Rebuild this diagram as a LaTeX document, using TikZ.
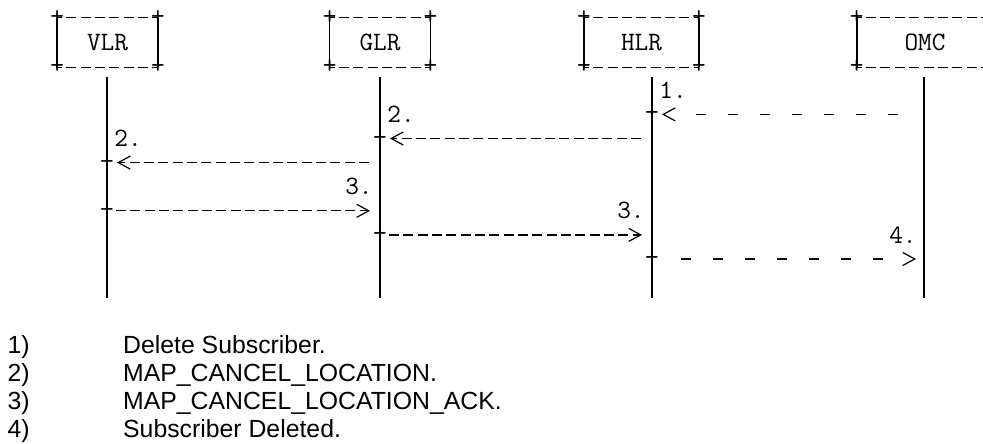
\documentclass[tikz,border=0pt]{standalone}
\usepackage{fontspec}
\setmainfont{Liberation Sans}
\usetikzlibrary{arrows.meta}

\begin{document}
\begin{tikzpicture}[x=1pt,y=-1pt,
  entity/.style={inner sep=0pt,minimum height=49pt,font=\ttfamily\fontsize{26.5}{27}\selectfont},
  junction/.style={inner sep=0pt,text height=13.2pt,text depth=0pt,font=\ttfamily\fontsize{26.5}{27}\selectfont},
  steplabel/.style={inner sep=0pt,font=\ttfamily\fontsize{26.5}{27}\selectfont},
  note/.style={inner sep=0pt,anchor=base west,font=\fontsize{24.8}{28}\selectfont},
  boxrule/.style={line width=1.3pt,dash pattern=on 10pt off 4.34pt,dash phase=5pt},
  boxside/.style={line width=1.7pt},
  lifeline/.style={line width=1.7pt},
  msg/.style={line width=1.3pt,dash pattern=on 10pt off 4.34pt},
  sparse/.style={line width=1.3pt,dash pattern=on 10pt off 22pt on 10pt off 22pt on 10pt off 22pt on 10pt off 22pt on 10pt off 22pt on 10pt off 22pt on 10pt off 80pt},
  arr/.style={-{Straight Barb[length=12pt,width=13pt,line width=1.2pt,sep=10pt]}}]
\useasboundingbox (0,0) rectangle (983,444);
\clip (0,0) rectangle (983,444);

% entities
\node[entity,minimum width=100.4pt] (vlr) at (107.5,42.5) {VLR};
\node[entity,minimum width=100.4pt] (glr) at (380,42.5) {GLR};
\node[entity,minimum width=114.7pt] (hlr) at (641.5,42.5) {HLR};
\node[entity,minimum width=136pt] (omc) at (925,42.5) {OMC};
\foreach \n in {vlr,glr,hlr,omc} {
  \draw[boxrule] (\n.north west) -- (\n.north east);
  \draw[boxrule] (\n.south west) -- (\n.south east);
  \draw[boxside] (\n.north west) -- (\n.south west);
  \draw[boxside] (\n.north east) -- (\n.south east);
}
\foreach \n/\c in {vlr/north west,vlr/north east,vlr/south west,vlr/south east,
                   glr/north west,glr/north east,glr/south west,glr/south east,
                   hlr/north west,hlr/north east,hlr/south west,hlr/south east,
                   omc/north west,omc/south west}
  \node[junction] (\n-\c) at (\n.\c) {+};

% lifelines
\coordinate (vlrTop) at (107,77);
\coordinate (vlrEnd) at (107,298);
\coordinate (glrTop) at (380,77);
\coordinate (glrEnd) at (380,298);
\coordinate (hlrTop) at (652,77);
\coordinate (hlrEnd) at (652,298);
\coordinate (omcTop) at (924,77);
\coordinate (omcEnd) at (924,298);
\draw[lifeline] (vlrTop) -- (vlrEnd);
\draw[lifeline] (glrTop) -- (glrEnd);
\draw[lifeline] (hlrTop) -- (hlrEnd);
\draw[lifeline] (omcTop) -- (omcEnd);

% junctions
\node[junction] (hlr1) at (652,114.4) {+};
\node[junction] (glr2) at (380,138.5) {+};
\node[junction] (vlr2) at (107,162.6) {+};
\node[junction] (vlr3) at (107,210.8) {+};
\node[junction] (glr3) at (380,234.9) {+};
\node[junction] (hlr4) at (652,259) {+};

% messages
\draw[sparse,arr,shorten <=26pt,shorten >=0pt] (omcEnd |- hlr1) -- (hlr1.center);
\draw[msg,arr,shorten <=11pt,shorten >=0pt] (hlrEnd |- glr2) -- (glr2.center);
\draw[msg,arr,shorten <=11pt,shorten >=0pt] (glrEnd |- vlr2) -- (vlr2.center);
\draw[msg,arr,shorten <=9pt,shorten >=0pt] (vlr3.center) -- (glrEnd |- vlr3);
\draw[msg,arr,shorten <=9pt,shorten >=0pt] (glr3.center) -- (hlrEnd |- glr3);
\draw[sparse,arr,shorten <=29pt,shorten >=-2pt] (hlr4.center) -- (omcEnd |- hlr4);

% step numbers
\node[steplabel,anchor=west] (s1) at (659.2,90.3) {1.};
\node[steplabel,anchor=west] (s2a) at (387.2,114.4) {2.};
\node[steplabel,anchor=west] (s2b) at (114.2,138.5) {2.};
\node[steplabel,anchor=east] (s3a) at (372.8,186.7) {3.};
\node[steplabel,anchor=east] (s3b) at (644.8,210.8) {3.};
\node[steplabel,anchor=east] (s4) at (916.8,234.9) {4.};

% legend
\foreach \i/\txt in {1/Delete Subscriber.,2/MAP\_CANCEL\_LOCATION.,3/MAP\_CANCEL\_LOCATION\_ACK.,4/Subscriber Deleted.} {
  \node[note] (key\i) at (7.5,{353+28.3*(\i-1)}) {\i)};
  \node[note] (note\i) at (123,{353+28.3*(\i-1)}) {\txt};
}
\end{tikzpicture}
\end{document}
